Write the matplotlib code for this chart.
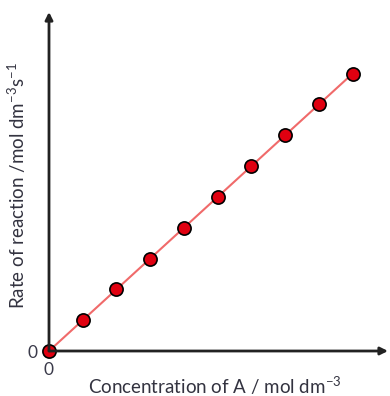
import numpy as np
import matplotlib.pyplot as plt

# concentration of A and the rate of reaction (arbitrary units, no scale shown)
conc = [0, 1, 2, 3, 4, 5, 6, 7, 8, 9]
rate = [0, 1, 2, 3, 4, 5, 6, 7, 8, 9]
xlabel = "Concentration of A / mol dm$^{-3}$"
ylabel = "Rate of reaction /mol dm$^{-3}$s$^{-1}$"

plt.rcParams['font.family'] = ['Lato', 'DejaVu Sans']
plt.rcParams['mathtext.fontset'] = 'custom'
plt.rcParams['mathtext.rm'] = 'Lato'
plt.rcParams['mathtext.it'] = 'Lato'

fig = plt.figure(figsize=(3.9, 3.96), dpi=100)
ax = fig.add_axes([49/390, 45/396, 339/390, 339/396])

ax.plot(conc, rate, color='#f06a6a', lw=1.5, zorder=2)
ax.plot(conc, rate, 'o', ms=9.5, mfc='#e00010', mec='black', mew=1.2, zorder=3, clip_on=False)

ax.set_xlim(0, 10.05)
ax.set_ylim(0, 11.0)

for s in ax.spines.values():
    s.set_visible(False)

# arrows for axes
ax.annotate('', xy=(1, 0), xytext=(0, 0), xycoords='axes fraction',
            arrowprops=dict(arrowstyle='-|>', color='#222222', lw=2, mutation_scale=11,
                            shrinkA=0, shrinkB=0))
ax.annotate('', xy=(0, 1), xytext=(0, 0), xycoords='axes fraction',
            arrowprops=dict(arrowstyle='-|>', color='#222222', lw=2, mutation_scale=11,
                            shrinkA=0, shrinkB=0))

ax.set_xticks([0])
ax.set_yticks([0])
ax.tick_params(length=0, labelsize=12.5, colors='#3a3a4a', pad=8)
ax.tick_params(axis='y', pad=8)

ax.set_xlabel(xlabel, fontsize=13.5, color='#333340')
ax.set_ylabel(ylabel, fontsize=13.5, color='#333340')
ax.xaxis.set_label_coords(0.49, -0.071)
ax.yaxis.set_label_coords(-0.062, 0.487)

fig.savefig('out.png', dpi=100)
